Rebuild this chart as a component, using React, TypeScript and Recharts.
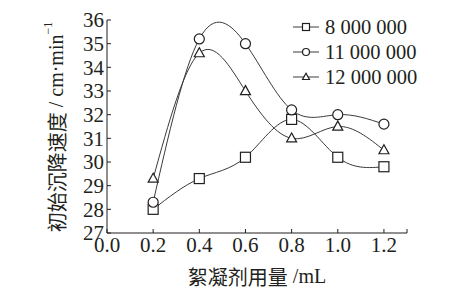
import React from 'react';
import { LineChart, Line, XAxis, YAxis } from 'recharts';

const doses = [0.2, 0.4, 0.6, 0.8, 1.0, 1.2];
const series8M = [28.0, 29.3, 30.2, 31.8, 30.2, 29.8];
const series11M = [28.3, 35.2, 35.0, 32.2, 32.0, 31.6];
const series12M = [29.3, 34.6, 33.0, 31.0, 31.5, 30.5];
const seriesNames = ['8 000 000', '11 000 000', '12 000 000'];
const seriesKeys = ['s8', 's11', 's12'];
const seriesShapes = ['square', 'circle', 'triangle'];
const xTicks = [0, 0.2, 0.4, 0.6, 0.8, 1.0, 1.2, 1.3];
const yTicks = [27, 28, 29, 30, 31, 32, 33, 34, 35, 36];

const data = doses.map((d, i) => ({ dose: d, s8: series8M[i], s11: series11M[i], s12: series12M[i] }));

const INK = '#231f20';
const LINE = '#3a3a3a';
const SERIF = '"Liberation Serif", "Times New Roman", serif';
const CJK = '"Noto Sans CJK SC", sans-serif';

function Marker({ shape, cx, cy, size }: { shape: string; cx: number; cy: number; size: number }) {
  if (cx == null || cy == null) return null;
  const sw = 1.2;
  if (shape === 'square') {
    return <rect x={cx - size / 2} y={cy - size / 2} width={size} height={size} fill="#fff" stroke={INK} strokeWidth={sw} />;
  }
  if (shape === 'circle') {
    return <circle cx={cx} cy={cy} r={size / 2} fill="#fff" stroke={INK} strokeWidth={sw} />;
  }
  const h = size * 0.9;
  const pts = `${cx},${cy - h * 0.6} ${cx - size / 2},${cy + h * 0.4} ${cx + size / 2},${cy + h * 0.4}`;
  return <polygon points={pts} fill="#fff" stroke={INK} strokeWidth={sw} strokeLinejoin="miter" />;
}

const XLabel = () => (
  <text x={257} y={276} textAnchor="middle" dominantBaseline="central" fill={INK} fontSize={20}>
    <tspan fontFamily={CJK}>絮凝剂用量</tspan>
    <tspan fontFamily={SERIF}> /mL</tspan>
  </text>
);

const YLabel = () => (
  <text x={0} y={0} transform="translate(56,127) rotate(-90)" textAnchor="middle" dominantBaseline="central" fill={INK} fontSize={20}>
    <tspan fontFamily={CJK}>初始沉降速度</tspan>
    <tspan fontFamily={SERIF}> / cm·min</tspan>
    <tspan fontFamily={SERIF} fontSize={12} dy={-8}>−1</tspan>
  </text>
);

export default function App() {
  return (
    <div style={{ position: 'absolute', left: 0, top: 0, width: 450, height: 290, background: '#fff' }}>
      <LineChart width={450} height={290} data={data} margin={{ top: 20, right: 43, left: 47, bottom: 27 }}>
        <XAxis
          type="number"
          dataKey="dose"
          domain={[0, 1.3]}
          ticks={xTicks}
          interval={0}
          tickFormatter={(v: number) => (v > 1.25 ? '' : v.toFixed(1))}
          tickSize={-4}
          tickMargin={8}
          height={30}
          axisLine={{ stroke: INK, strokeWidth: 1 }}
          tickLine={{ stroke: INK, strokeWidth: 1 }}
          tick={{ fill: INK, fontSize: 21, fontFamily: SERIF }}
          label={<XLabel />}
        />
        <YAxis
          type="number"
          domain={[27, 36]}
          ticks={yTicks}
          interval={0}
          width={60}
          tickSize={-4}
          tickMargin={7}
          axisLine={{ stroke: INK, strokeWidth: 1 }}
          tickLine={{ stroke: INK, strokeWidth: 1 }}
          tick={{ fill: INK, fontSize: 21, fontFamily: SERIF }}
          label={<YLabel />}
        />
        {seriesKeys.map((k, si) => (
          <Line
            key={k}
            dataKey={k}
            type="natural"
            stroke={LINE}
            strokeWidth={1}
            isAnimationActive={false}
            dot={(p: any) => <Marker key={`${k}-${p.index}`} shape={seriesShapes[si]} cx={p.cx} cy={p.cy} size={10} />}
            activeDot={false}
          />
        ))}
      </LineChart>
      <svg width={450} height={290} style={{ position: 'absolute', left: 0, top: 0, pointerEvents: 'none' }}>
        {seriesNames.map((name, i) => {
          const y = 27 + i * 25;
          return (
            <g key={name}>
              <line x1={293} x2={319} y1={y} y2={y} stroke={LINE} strokeWidth={1} />
              <Marker shape={seriesShapes[i]} cx={306} cy={y} size={7} />
              <text x={325} y={y} dominantBaseline="central" fontSize={20.5} fontFamily={SERIF} fill={INK}>
                {name}
              </text>
            </g>
          );
        })}
      </svg>
    </div>
  );
}
